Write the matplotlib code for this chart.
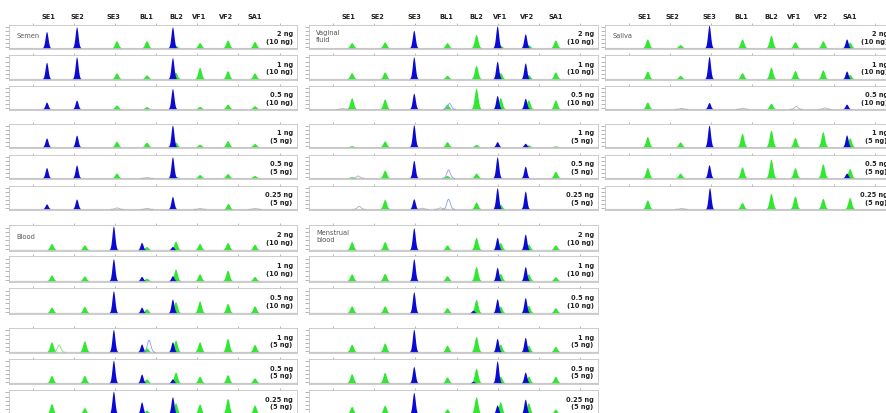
import numpy as np
import matplotlib
matplotlib.use('Agg')
import matplotlib.pyplot as plt

# marker names and peak sizes (bp) for the two dye channels
markers = ['SE1', 'SE2', 'SE3', 'BL1', 'BL2', 'VF1', 'VF2', 'SA1']
header_bp = [67.5, 81.6, 99.5, 115.1, 129.7, 140.9, 154.0, 168.1]
blue_bp = [67.0, 81.6, 99.5, 113.2, 128.2, 139.9, 153.5, 166.6]
green_bp = [69.4, 85.4, 101.0, 115.6, 129.7, 141.4, 155.0, 168.1]

amounts = ['2 ng\n(10 ng)', '1 ng\n(10 ng)', '0.5 ng\n(10 ng)',
           '1 ng\n(5 ng)', '0.5 ng\n(5 ng)', '0.25 ng\n(5 ng)']

# relative peak heights, one row per panel, one column per marker
semen_blue = [[0.70, 0.90, 0, 0, 0.90, 0, 0, 0],
              [0.68, 0.90, 0, 0, 0.87, 0, 0, 0],
              [0.29, 0.37, 0, 0, 0.87, 0, 0, 0],
              [0.38, 0.50, 0, 0, 0.93, 0, 0, 0],
              [0.44, 0.55, 0, 0, 0.90, 0, 0, 0],
              [0.21, 0.42, 0, 0, 0.53, 0, 0, 0]]
semen_green = [[0, 0, 0.30, 0.30, 0.10, 0.22, 0.33, 0.27],
               [0, 0, 0.24, 0.16, 0.27, 0.47, 0.33, 0.24],
               [0, 0, 0.16, 0.09, 0, 0.10, 0.20, 0.13],
               [0, 0, 0.24, 0.20, 0.20, 0.11, 0.26, 0.14],
               [0, 0, 0.20, 0, 0.07, 0.14, 0.18, 0.10],
               [0, 0, 0, 0, 0, 0, 0.25, 0]]

vaginal_blue = [[0, 0, 0.75, 0, 0, 0.94, 0.60, 0],
                [0, 0, 0.90, 0, 0, 0.72, 0.65, 0],
                [0, 0, 0.67, 0, 0, 0.57, 0.45, 0],
                [0, 0, 0.95, 0, 0, 0.22, 0.15, 0],
                [0, 0, 0.75, 0, 0, 0.90, 0.50, 0],
                [0, 0, 0.43, 0, 0, 0.90, 0.76, 0]]
vaginal_green = [[0.22, 0.25, 0, 0.22, 0.57, 0.10, 0.13, 0.33],
                 [0.25, 0.28, 0, 0.14, 0.55, 0.25, 0.17, 0.28],
                 [0.47, 0.42, 0, 0.20, 0.88, 0.48, 0.38, 0.38],
                 [0.05, 0.25, 0, 0.22, 0.10, 0, 0.08, 0.04],
                 [0.05, 0.33, 0, 0.10, 0.20, 0, 0, 0.28],
                 [0, 0.40, 0, 0, 0.29, 0.19, 0, 0]]

saliva_blue = [[0, 0, 0.97, 0, 0, 0, 0, 0.38],
               [0, 0, 0.92, 0, 0, 0, 0, 0.32],
               [0, 0, 0.27, 0, 0, 0, 0, 0.20],
               [0, 0, 0.93, 0, 0, 0, 0, 0.51],
               [0, 0, 0.56, 0, 0, 0, 0, 0.20],
               [0, 0, 0.93, 0, 0, 0, 0, 0]]
saliva_green = [[0.38, 0.14, 0, 0.38, 0.54, 0.26, 0.30, 0.24],
                [0.32, 0.14, 0, 0.25, 0.48, 0.34, 0.37, 0.18],
                [0.29, 0, 0, 0, 0.24, 0, 0, 0],
                [0.44, 0.21, 0, 0.58, 0.72, 0.40, 0.65, 0.38],
                [0.44, 0.20, 0, 0.47, 0.80, 0.43, 0.60, 0.40],
                [0.38, 0, 0, 0.27, 0.66, 0.55, 0.45, 0.48]]

blood_blue = [[0, 0, 0.94, 0.29, 0.13, 0, 0, 0],
              [0, 0, 0.87, 0.17, 0.20, 0, 0, 0],
              [0, 0, 0.87, 0.22, 0.54, 0, 0, 0],
              [0, 0, 0.92, 0.32, 0.41, 0, 0, 0],
              [0, 0, 0.93, 0.36, 0.16, 0, 0, 0],
              [0, 0, 0.93, 0.49, 0.70, 0, 0, 0]]
blood_green = [[0.25, 0.19, 0, 0.13, 0.34, 0.25, 0.29, 0.22],
               [0.23, 0.19, 0, 0.10, 0.46, 0.27, 0.42, 0.17],
               [0.22, 0.25, 0, 0.16, 0.44, 0.47, 0.37, 0.27],
               [0.41, 0.45, 0, 0.16, 0.48, 0.41, 0.55, 0.30],
               [0.30, 0.30, 0, 0.16, 0.44, 0.27, 0.33, 0.20],
               [0.42, 0.25, 0, 0.15, 0.45, 0.40, 0.63, 0.36]]

menstrual_blue = [[0, 0, 0.87, 0, 0, 0.49, 0.62, 0],
                  [0, 0, 0.87, 0, 0, 0.53, 0.56, 0],
                  [0, 0, 0.83, 0, 0.10, 0.55, 0.60, 0],
                  [0, 0, 0.93, 0, 0, 0.55, 0.59, 0],
                  [0, 0, 0.67, 0, 0.06, 0.90, 0.44, 0],
                  [0, 0, 0.88, 0, 0, 0.36, 0.60, 0]]
menstrual_green = [[0.32, 0.32, 0, 0.19, 0.49, 0.28, 0.22, 0.19],
                   [0.27, 0.29, 0, 0.20, 0.56, 0.29, 0.27, 0.16],
                   [0.27, 0.27, 0, 0.20, 0.53, 0.26, 0.29, 0.20],
                   [0.31, 0.36, 0, 0.27, 0.63, 0.31, 0.27, 0.22],
                   [0.37, 0.43, 0, 0.24, 0.60, 0.27, 0.27, 0.27],
                   [0.30, 0.35, 0, 0.20, 0.70, 0.50, 0.45, 0.19]]

# unfilled (artefact) peaks: sample -> list of (panel, bp, height, kind)
outline_peaks = {
    'Semen': [(4, 115.6, 0.03, 'gray'), (5, 101.0, 0.06, 'gray'),
              (5, 115.6, 0.04, 'gray'), (5, 141.4, 0.03, 'gray'),
              (5, 168.1, 0.03, 'gray')],
    'Vaginal\nfluid': [(2, 65.0, 0.03, 'gray'), (2, 116.6, 0.25, 'lblue'),
                       (4, 72.3, 0.10, 'gray'), (4, 116.1, 0.36, 'lblue'),
                       (5, 72.8, 0.13, 'gray'), (5, 116.1, 0.43, 'lblue'),
                       (5, 112.2, 0.06, 'gray'), (5, 103.4, 0.05, 'gray')],
    'Saliva': [(2, 85.9, 0.04, 'gray'), (2, 115.6, 0.05, 'gray'),
               (2, 141.8, 0.12, 'gray'), (2, 155.9, 0.06, 'gray'),
               (5, 85.9, 0.03, 'gray')],
    'Blood': [(3, 72.8, 0.30, 'lgreen'), (3, 116.6, 0.50, 'lblue')],
    'Menstrual\nblood': [],
}

W, H = 887, 414
top_rows = [(26, 50), (56, 81), (87, 111), (125, 149), (156, 180), (187, 211)]
bottom_rows = [(226, 252), (257, 283), (289, 315), (329, 354), (360, 385), (391, 416)]

samples = [
    ('Semen', 9, 297, top_rows, semen_blue, semen_green, True),
    ('Vaginal\nfluid', 309, 598, top_rows, vaginal_blue, vaginal_green, True),
    ('Saliva', 605, 892, top_rows, saliva_blue, saliva_green, True),
    ('Blood', 9, 297, bottom_rows, blood_blue, blood_green, False),
    ('Menstrual\nblood', 309, 598, bottom_rows, menstrual_blue, menstrual_green, False),
]

BLUE = '#0a0ad2'
GREEN = '#2fe82f'
outline_col = {'gray': '#b0b0b0', 'lblue': '#8c9cf2', 'lgreen': '#7fe07f'}

x = np.linspace(48.5, 188.5, 3000)


def trace(pos, heights, sigma):
    y = np.zeros_like(x)
    for p, h in zip(pos, heights):
        if h > 0:
            y += h * np.exp(-0.5 * ((x - p) / sigma) ** 2)
    return y


fig = plt.figure(figsize=(W / 100, H / 100), dpi=100)
fig.patch.set_facecolor('white')

for name, left, right, rows, blue, green, header in samples:
    for i, (top, bot) in enumerate(rows):
        ax = fig.add_axes([left / W, 1 - bot / H, (right - left) / W, (bot - top) / H])
        ax.set_xlim(48.5, 188.5)
        ax.set_ylim(-0.03, 1.0)

        g = trace(green_bp, green[i], 0.85)
        b = trace(blue_bp, blue[i], 0.7)
        ax.plot(x, np.zeros_like(x), color='#aaaaaa', lw=0.5)
        ax.fill_between(x, 0, g, where=g > 0.004, color=GREEN, lw=0)
        ax.fill_between(x, 0, b, where=b > 0.004, color=BLUE, lw=0)
        for panel, pos, h, kind in outline_peaks[name]:
            if panel == i:
                o = trace([pos], [h], 0.85)
                o = np.ma.masked_where(np.abs(x - pos) > 3.0, o)
                ax.plot(x, o, color=outline_col[kind], lw=0.6)

        for s in ax.spines.values():
            s.set_color('#c4c4c4')
            s.set_linewidth(0.6)
        ax.xaxis.tick_top()
        ax.set_xticks(np.arange(60, 181, 20))
        ax.set_xticklabels([])
        ax.set_yticks(np.linspace(0.05, 0.9, 6))
        ax.set_yticklabels([])
        ax.tick_params(axis='x', length=1.5, width=0.6, color='#aaaaaa')
        ax.tick_params(axis='y', length=3, width=0.5, color='#999999')

        ax.text(0.985, 0.5, amounts[i], transform=ax.transAxes, ha='right', va='center',
                fontsize=4.8, fontweight='bold', color='#222222', linespacing=1.3)

        if i == 0:
            ax.text(0.025, 0.58, name, transform=ax.transAxes, ha='left', va='center',
                    fontsize=4.8, color='#555555', linespacing=1.2)
            if header:
                for m, hx in zip(markers, header_bp):
                    ax.text(hx, 1.38, m, transform=ax.get_xaxis_transform(), ha='center',
                            va='center', fontsize=4.8, fontweight='bold', color='#222222')

fig.savefig('out.png', dpi=100, facecolor='white')
